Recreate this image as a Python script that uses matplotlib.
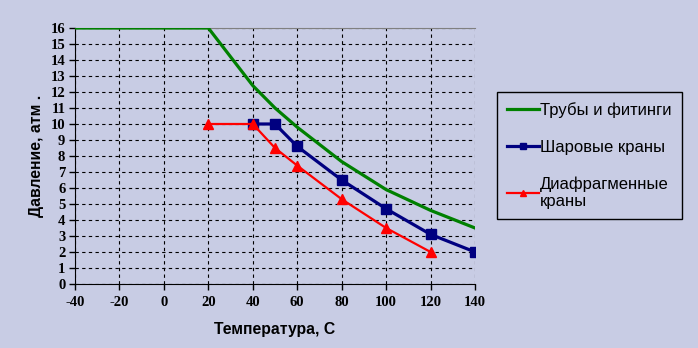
import matplotlib
matplotlib.use("Agg")
import matplotlib.pyplot as plt

# Temperature (C) and allowed pressure (atm)
pipe_t = [-40, -20, 0, 20, 40, 50, 60, 80, 100, 120, 140]
pipe_p = [16, 16, 16, 16, 12.4, 11.0, 9.8, 7.65, 5.9, 4.6, 3.5]

ball_t = [40, 50, 60, 80, 100, 120, 140]
ball_p = [10, 10, 8.6, 6.5, 4.7, 3.1, 2.0]

diaph_t = [20, 40, 50, 60, 80, 100, 120]
diaph_p = [10, 10, 8.5, 7.4, 5.3, 3.5, 2.0]

labels = ["Трубы и фитинги", "Шаровые краны", "Диафрагменные\nкраны"]
x_ticks = list(range(-40, 141, 20))
y_ticks = list(range(0, 17))

BG = "#C8CCE4"

fig = plt.figure(figsize=(6.98, 3.48), dpi=100, facecolor=BG)
ax = fig.add_axes([0.1075, 0.184, 0.573, 0.7355])
ax.set_facecolor(BG)

ax.plot(pipe_t, pipe_p, color="#008000", lw=2.3, label=labels[0], zorder=3)
ax.plot(ball_t, ball_p, color="#000080", lw=2.3, marker="s", ms=7,
        label=labels[1], zorder=4)
ax.plot(diaph_t, diaph_p, color="#FF0000", lw=1.6, marker="^", ms=7,
        label=labels[2], zorder=5)

ax.set_xlim(-40, 140)
ax.set_ylim(0, 16)
ax.set_xticks(x_ticks)
ax.set_yticks(y_ticks)
ax.grid(True, color="black", linestyle=(0, (3, 3)), lw=0.8)

tick_font = {"family": "Liberation Serif", "weight": "bold", "size": 10.5}
ax.set_xticklabels([str(t) for t in x_ticks], fontdict=tick_font)
ax.set_yticklabels([str(t) for t in y_ticks], fontdict=tick_font)
ax.tick_params(axis="both", direction="out", length=4, width=1, color="black")
ax.tick_params(axis="x", pad=5)
ax.tick_params(axis="y", pad=3)

ax.spines["left"].set_color("black")
ax.spines["bottom"].set_color("black")
ax.spines["top"].set_color("#808080")
ax.spines["top"].set_linewidth(0.8)
ax.spines["right"].set_visible(False)

label_font = {"family": "Liberation Sans", "weight": "bold", "size": 11.3}
ax.set_xlabel("Температура, С", fontdict=label_font, labelpad=9)
ax.set_ylabel("Давление, атм .", fontdict=label_font, labelpad=5)

leg = fig.legend(loc="upper left", bbox_to_anchor=(0.712, 0.7356),
                 borderaxespad=0, frameon=True, fancybox=False,
                 edgecolor="black", facecolor=BG, framealpha=1,
                 handlelength=1.9, handletextpad=0.1, labelspacing=1.3,
                 borderpad=0.6, markerscale=0.65,
                 prop={"family": "Liberation Sans", "size": 12})
leg.get_frame().set_linewidth(1.0)

fig.savefig("out.png", dpi=100, facecolor=BG)
